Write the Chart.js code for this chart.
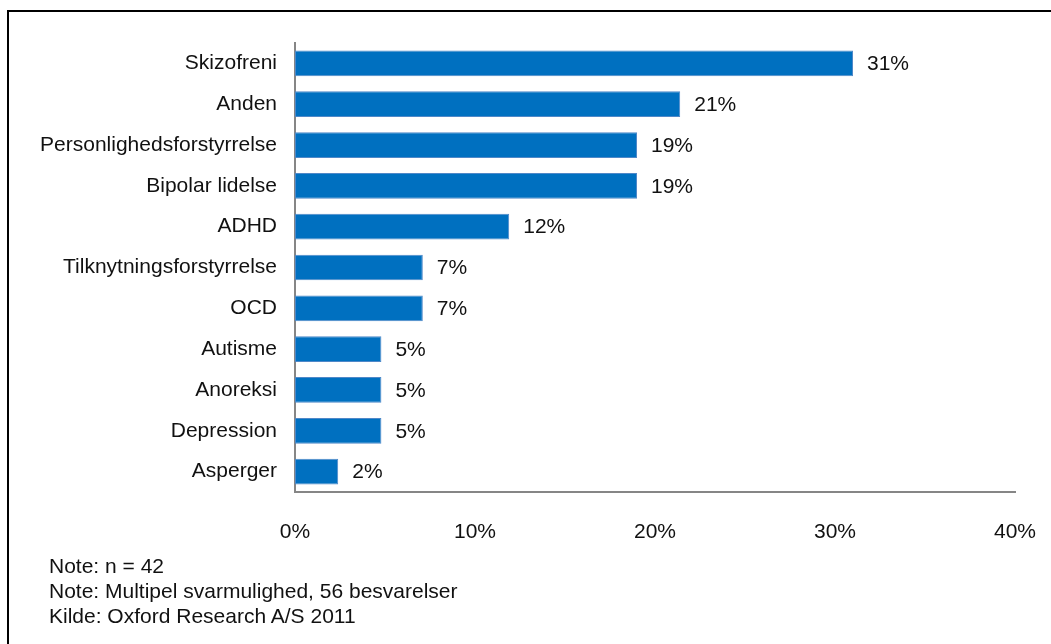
<!DOCTYPE html>
<html>
<head>
<meta charset="utf-8">
<script src="https://cdn.jsdelivr.net/npm/chart.js@4"></script>
<style>
  html, body { margin: 0; padding: 0; background: #fff; overflow: hidden; }
  #wrap { position: relative; width: 1051px; height: 644px; overflow: hidden; }
  #frame { position: absolute; left: 7px; top: 10px; width: 1100px; height: 700px; border: 2px solid #000; box-sizing: border-box; }
  #chart { position: absolute; left: 0; top: 0; }
  #notes { position: absolute; left: 49px; top: 553px; font-family: "Liberation Sans", Arial, sans-serif; font-size: 21px; line-height: 25px; color: #111; }
</style>
</head>
<body>
<div id="wrap">
  <div id="frame"></div>
  <canvas id="chart" width="1051" height="644"></canvas>
  <div id="notes">
    <div>Note: n = 42</div>
    <div>Note: Multipel svarmulighed, 56 besvarelser</div>
    <div>Kilde: Oxford Research A/S 2011</div>
  </div>
</div>
<script>
const categories = [
  "Skizofreni", "Anden", "Personlighedsforstyrrelse", "Bipolar lidelse", "ADHD",
  "Tilknytningsforstyrrelse", "OCD", "Autisme", "Anoreksi", "Depression", "Asperger"
];
// share of respondents (%)
const shares = [31.0, 21.4, 19.0, 19.0, 11.9, 7.1, 7.1, 4.8, 4.8, 4.8, 2.4];
const xTicks = [0, 10, 20, 30, 40];

const FONT = "'Liberation Sans', Arial, sans-serif";

const valueLabels = {
  id: "valueLabels",
  afterDatasetsDraw(chart) {
    const ctx = chart.ctx;
    const meta = chart.getDatasetMeta(0);
    ctx.save();
    ctx.font = "21px " + FONT;
    ctx.fillStyle = "#111";
    ctx.textBaseline = "middle";
    ctx.textAlign = "left";
    meta.data.forEach((bar, i) => {
      ctx.fillText(Math.round(shares[i]) + "%", bar.x + 14, bar.y + 1);
    });
    ctx.restore();
  },
};

new Chart(document.getElementById("chart"), {
  type: "bar",
  data: {
    labels: categories,
    datasets: [
      {
        data: shares,
        backgroundColor: "#0070C0",
        borderColor: "#4F88C8",
        borderWidth: 1,
        borderSkipped: false,
        categoryPercentage: 1,
        barPercentage: 0.63,
      },
    ],
  },
  options: {
    indexAxis: "y",
    responsive: false,
    animation: false,
    devicePixelRatio: 1,
    layout: { padding: { top: 43, right: 36, left: 0, bottom: 0 } },
    plugins: { legend: { display: false }, tooltip: { enabled: false } },
    scales: {
      x: {
        min: 0,
        max: 40,
        afterBuildTicks: (scale) => {
          scale.ticks = xTicks.map((v) => ({ value: v }));
        },
        afterFit: (scale) => {
          scale.height = 152;
          scale.paddingLeft = 0;
          scale.paddingRight = 0;
        },
        grid: { display: false, drawTicks: false },
        border: { display: true, color: "#868686", width: 2 },
        ticks: {
          padding: 28,
          color: "#111",
          font: { family: FONT, size: 21 },
          callback: (v) => v + "%",
        },
      },
      y: {
        afterFit: (scale) => {
          scale.width = 295;
        },
        grid: { display: false, drawTicks: false },
        border: { display: true, color: "#868686", width: 2 },
        ticks: {
          padding: 18,
          color: "#111",
          font: { family: FONT, size: 21 },
        },
      },
    },
  },
  plugins: [valueLabels],
});
</script>
</body>
</html>
